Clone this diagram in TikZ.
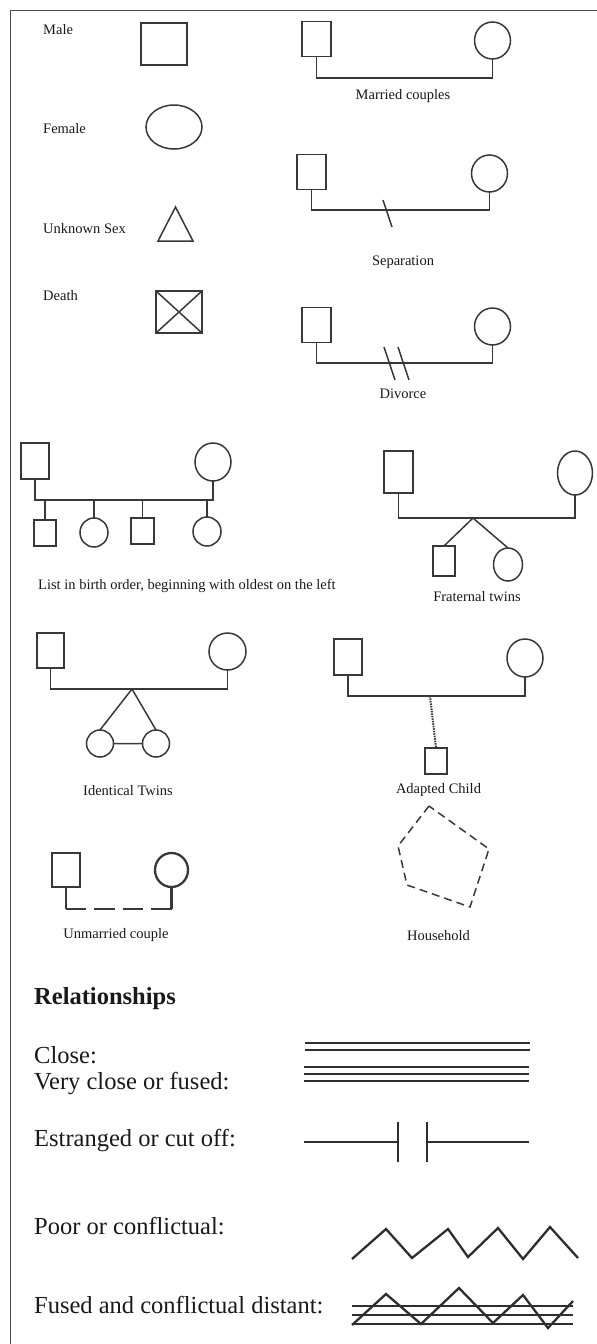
\documentclass[tikz,border=0pt]{standalone}
\usepackage{fontspec}
\setmainfont{Liberation Serif}
\usetikzlibrary{shapes.geometric}
\definecolor{ink}{HTML}{383838}
\tikzset{
  male/.style={draw=ink, rectangle, inner sep=0pt, outer sep=0pt, line width=1.5pt},
  female/.style={draw=ink, ellipse, inner sep=0pt, outer sep=0pt, line width=1.5pt},
  sz/.style 2 args={minimum width=#1pt, minimum height=#2pt},
  link/.style={draw=ink, line width=1.5pt},
  lbl/.style={inner sep=0pt, text=black!90, font=\fontsize{14.5}{17}\selectfont},
  biglbl/.style={inner sep=0pt, text=black!90, font=\fontsize{24.5}{29}\selectfont},
  rel/.style={draw=black!82, line width=2.3pt},
}
\begin{document}
\begin{tikzpicture}[x=1pt,y=-1pt]
    \useasboundingbox (0,0) rectangle (597,1344);
    \draw[black!70, line width=1.8pt] (10.5,1344) -- (10.5,10.5) -- (597,10.5);

    % single symbols
    \node[lbl, anchor=base west] (tmale) at (43,34) {Male};
    \node[male, sz={46}{42}] (male) at (164,44) {};
    \node[lbl, anchor=base west] (tfemale) at (43,133) {Female};
    \node[female, sz={56}{44}] (female) at (174,127) {};
    \node[lbl, anchor=base west] (tunknown) at (43,233) {Unknown Sex};
    \draw[link] (158,241) -- (175.5,207) -- (193,241) -- cycle;
    \node[lbl, anchor=base west] (tdeath) at (43,300) {Death};
    \node[male, sz={46}{42}] (death) at (179,312) {};
    \draw[link] (death.north west) -- (death.south east)
                (death.north east) -- (death.south west);

    % couples
    \foreach \n/\xm/\xf/\ym/\by/\ty/\txt in {mar/316.5/492.5/39/78/99/Married couples,
                                           sep/311.5/489.5/172/210/265/Separation,
                                           div/316.5/492.5/325/363/398/Divorce}
    {
        \node[male, sz={29}{35}] (m\n) at (\xm,\ym) {};
        \node[female, sz={36}{37}] (f\n) at (\xf,\ym+1.5) {};
        \coordinate (b\n) at (400,\by);
        \draw[link] (m\n.south) |- (b\n) -| (f\n.south);
        \node[lbl, anchor=base] (t\n) at (403,\ty) {\txt};
    }
    \draw[link] (383,200) -- (392,227);
    \draw[link] (384,347) -- (395,380) (398,347) -- (409,380);

    % birth order
    \node[male, sz={28}{36}] (lm) at (35,461) {};
    \node[female, sz={36}{38}] (lf) at (213,462) {};
    \coordinate (lb) at (120,500);
    \draw[link] (lm.south) |- (lb) -| (lf.south);
    \node[male, sz={22}{26}] (lc1) at (45,533) {};
    \node[female, sz={28}{29}] (lc2) at (94,532.5) {};
    \node[male, sz={23}{26}] (lc3) at (142.5,531) {};
    \node[female, sz={28}{29}] (lc4) at (207,531.5) {};
    \foreach \c in {1,...,4}
        \draw[link] (lc\c.north) -- (lc\c.north |- lb);
    \node[lbl, anchor=base west] (tlist) at (38,589) {List in birth order, beginning with oldest on the left};

    % fraternal twins
    \node[male, sz={29}{42}] (fm) at (398.5,472) {};
    \node[female, sz={35}{44}] (ff) at (575,473) {};
    \coordinate (fb) at (473,518);
    \draw[link] (fm.south) |- (fb) -| (ff.south);
    \node[male, sz={22}{30}] (fc1) at (444,561) {};
    \node[female, sz={29}{33}] (fc2) at (508,564.5) {};
    \draw[link] (fc1.north) -- (fb) -- (fc2.north);
    \node[lbl, anchor=base] (tfrat) at (477,601) {Fraternal twins};

    % identical twins
    \node[male, sz={27}{35}] (im) at (50.5,650.5) {};
    \node[female, sz={37}{37}] (if) at (227.5,651.5) {};
    \coordinate (ib) at (132,689);
    \draw[link] (im.south) |- (ib) -| (if.south);
    \node[female, sz={27}{27}] (it1) at (100,743.5) {};
    \node[female, sz={27}{27}] (it2) at (156,743.5) {};
    \draw[link] (it1.north) -- (ib) -- (it2.north) (it1) -- (it2);
    \node[lbl, anchor=base] (tident) at (128,795) {Identical Twins};

    % adapted child
    \node[male, sz={28}{36}] (am) at (348,657) {};
    \node[female, sz={36}{38}] (af) at (525,658) {};
    \coordinate (ab) at (430,696);
    \draw[link] (am.south) |- (ab) -| (af.south);
    \node[male, sz={22}{26}] (ac) at (436,761) {};
    \draw[link, line width=2pt, dash pattern=on 1.5pt off 1pt] (ab) -- (ac.north);
    \node[lbl, anchor=base] (tadapt) at (438.5,793) {Adapted Child};

    % unmarried couple
    \node[male, sz={28}{34}, line width=2.3pt] (um) at (66,870) {};
    \node[female, sz={33}{34}, line width=2.3pt] (uf) at (171.5,870) {};
    \coordinate (ub1) at (66,909);
    \coordinate (ub2) at (171.5,909);
    \draw[link, line width=2.3pt] (um.south) -- (ub1) (uf.south) -- (ub2);
    \draw[link, line width=2.3pt, dash pattern=on 20.4pt off 8pt] (ub1) -- (ub2);
    \node[lbl, anchor=base] (tunmar) at (116,938) {Unmarried couple};

    % household
    \draw[link, dash pattern=on 8pt off 5pt] (429,806) -- (398,846) -- (407,885)
        -- (470,907) -- (489,849) -- cycle;
    \node[lbl, anchor=base] (thouse) at (438.5,940) {Household};

    % relationships
    \node[biglbl, font=\fontsize{24.5}{29}\selectfont\bfseries, anchor=base west] (trel) at (34,1004) {Relationships};
    \node[biglbl, anchor=base west] (tclose) at (34,1063) {Close:};
    \node[biglbl, anchor=base west] (tvclose) at (34,1089) {Very close or fused:};
    \node[biglbl, anchor=base west] (testr) at (34,1146) {Estranged or cut off:};
    \node[biglbl, anchor=base west] (tpoor) at (34,1234) {Poor or conflictual:};
    \node[biglbl, anchor=base west] (tfused) at (34,1313) {Fused and conflictual distant:};
    \foreach \y in {1043,1050}
        \draw[rel] (305,\y) -- (530,\y);
    \foreach \y in {1067,1074,1081}
        \draw[rel] (304,\y) -- (529,\y);
    \draw[rel] (304,1142) -- (398,1142) (398,1122) -- (398,1162)
               (427,1122) -- (427,1162) (427,1142) -- (529,1142);
    \draw[rel] (352,1259) -- (386,1229) -- (412,1258) -- (448,1229) -- (468,1257)
        -- (498,1228) -- (523,1259) -- (550,1227) -- (578,1258);
    \foreach \y in {1306,1315,1324}
        \draw[rel] (352,\y) -- (573,\y);
    \draw[rel] (352,1325) -- (386,1294) -- (421,1324) -- (459,1288) -- (493,1323)
        -- (523,1295) -- (548,1328) -- (573,1301);
\end{tikzpicture}
\end{document}
